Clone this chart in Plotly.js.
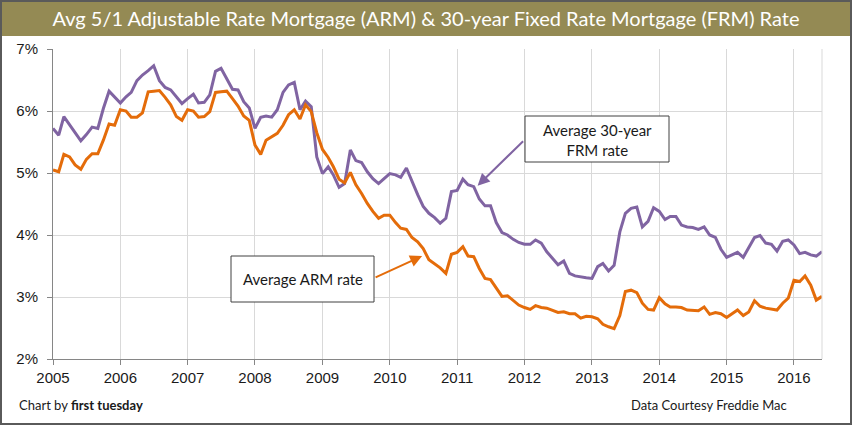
<!DOCTYPE html>
<html>
<head>
<meta charset="utf-8">
<script src="https://cdn.plot.ly/plotly-3.0.1.min.js"></script>
<style>
  html, body { margin: 0; padding: 0; background: #ffffff; }
  #chart { width: 852px; height: 425px; }
</style>
</head>
<body>
<div id="chart"></div>
<script>
// ---- Data (monthly, Jan 2005 .. Jun 2016) ----
const startYear = 2005;
const monthCount = 138;

const frmRate = [
  5.72, 5.61, 5.91, 5.78, 5.66, 5.52, 5.62, 5.74, 5.72, 6.04, 6.32, 6.23,
  6.13, 6.23, 6.30, 6.49, 6.58, 6.65, 6.73, 6.49, 6.38, 6.34, 6.22, 6.12,
  6.20, 6.27, 6.13, 6.14, 6.26, 6.64, 6.69, 6.53, 6.35, 6.34, 6.15, 6.05,
  5.72, 5.90, 5.92, 5.90, 6.02, 6.30, 6.42, 6.46, 6.02, 6.16, 6.07, 5.26,
  4.99, 5.10, 4.97, 4.77, 4.83, 5.37, 5.20, 5.17, 5.02, 4.91, 4.83, 4.91,
  4.99, 4.97, 4.93, 5.08, 4.86, 4.65, 4.46, 4.35, 4.28, 4.19, 4.27, 4.70,
  4.72, 4.90, 4.81, 4.78, 4.58, 4.47, 4.47, 4.20, 4.04, 4.00, 3.93, 3.88,
  3.85, 3.85, 3.92, 3.87, 3.73, 3.62, 3.52, 3.58, 3.38, 3.34, 3.32, 3.31,
  3.30, 3.49, 3.54, 3.42, 3.51, 4.05, 4.35, 4.43, 4.45, 4.13, 4.22, 4.44,
  4.38, 4.25, 4.30, 4.30, 4.16, 4.13, 4.12, 4.09, 4.13, 4.00, 3.96, 3.77,
  3.64, 3.68, 3.72, 3.64, 3.81, 3.96, 3.99, 3.87, 3.85, 3.74, 3.90, 3.92,
  3.84, 3.70, 3.72, 3.68, 3.66, 3.73
];

const armRate = [
  5.05, 5.02, 5.30, 5.26, 5.13, 5.06, 5.22, 5.31, 5.31, 5.53, 5.79, 5.77,
  6.02, 6.00, 5.90, 5.90, 5.97, 6.31, 6.32, 6.33, 6.22, 6.10, 5.91, 5.85,
  6.02, 6.00, 5.90, 5.91, 5.99, 6.30, 6.31, 6.32, 6.20, 6.08, 5.92, 5.85,
  5.45, 5.30, 5.53, 5.58, 5.64, 5.77, 5.94, 6.02, 5.87, 6.10, 5.99, 5.65,
  5.38, 5.25, 5.10, 4.90, 4.84, 5.01, 4.81, 4.67, 4.51, 4.38, 4.27, 4.32,
  4.32, 4.20, 4.11, 4.09, 3.96, 3.89, 3.78, 3.60, 3.54, 3.47, 3.38, 3.69,
  3.72, 3.81, 3.66, 3.65, 3.46, 3.30, 3.28, 3.14, 3.01, 3.02, 2.94, 2.87,
  2.83, 2.80, 2.86, 2.83, 2.82, 2.79, 2.75, 2.76, 2.73, 2.73, 2.66, 2.69,
  2.68, 2.65, 2.56, 2.52, 2.49, 2.70, 3.09, 3.11, 3.07, 2.90, 2.80, 2.79,
  2.99, 2.89, 2.84, 2.84, 2.83, 2.79, 2.78, 2.78, 2.84, 2.72, 2.75, 2.73,
  2.67, 2.74, 2.79, 2.70, 2.76, 2.94, 2.85, 2.82, 2.80, 2.79, 2.90, 2.98,
  3.27, 3.25, 3.34, 3.19, 2.95, 3.01
];

const tickYears = [2005, 2006, 2007, 2008, 2009, 2010, 2011, 2012, 2013, 2014, 2015, 2016];

const titleText = 'Avg 5/1 Adjustable Rate Mortgage (ARM) &amp; 30-year Fixed Rate Mortgage (FRM) Rate';
const armLabel = 'Average ARM rate';
const frmLabel = 'Average 30-year<br>FRM rate';
const creditLeft = 'Chart by <b>first tuesday</b>';
const creditRight = 'Data Courtesy Freddie Mac';

// month dates (category axis positions)
const monthDates = [];
for (let i = 0; i < monthCount; i++) {
  const y = startYear + Math.floor(i / 12);
  const m = (i % 12) + 1;
  monthDates.push(y + '-' + String(m).padStart(2, '0') + '-01');
}
const tickVals = tickYears.map(y => y + '-01-01');
const tickText = tickYears.map(String);

const purple = '#8064A2';
const orange = '#E46C0A';
const olive = '#948A54';

const traces = [
  { x: monthDates, y: frmRate, type: 'scatter', mode: 'lines', name: 'FRM',
    line: { color: purple, width: 3 }, hoverinfo: 'x+y' },
  { x: monthDates, y: armRate, type: 'scatter', mode: 'lines', name: 'ARM',
    line: { color: orange, width: 3 }, hoverinfo: 'x+y' }
];

// plot area in px: left 53, right 822, top 49, bottom 359
const L = 53, R = 822, T = 49, B = 359;
const px = v => (v - L) / (R - L);
const py = v => (B - v) / (B - T);

const layout = {
  width: 852, height: 425,
  margin: { l: L, r: 852 - R, t: T, b: 425 - B },
  paper_bgcolor: '#ffffff', plot_bgcolor: '#ffffff',
  showlegend: false,
  font: { family: 'Liberation Sans, Arial, sans-serif', color: '#1a1a1a', size: 15 },
  title: {
    text: titleText,
    font: { family: 'Lato, Open Sans, sans-serif', size: 20, color: '#ffffff' },
    x: 0.5, xref: 'container', xanchor: 'center',
    y: 1 - 19 / 425, yref: 'container', yanchor: 'middle'
  },
  xaxis: {
    type: 'date',
    range: ['2005-01-01', monthDates[monthDates.length - 1]],
    tickvals: tickVals, ticktext: tickText,
    ticks: 'outside', ticklen: 5, tickcolor: '#868686', tickwidth: 1,
    showline: true, linecolor: '#868686', linewidth: 1,
    showgrid: true, gridcolor: '#D9D9D9', gridwidth: 1,
    zeroline: false,
    tickfont: { size: 15, color: '#1a1a1a' },
    fixedrange: true
  },
  yaxis: {
    range: [2, 7], dtick: 1, tick0: 2,
    ticksuffix: '%',
    ticks: 'outside', ticklen: 5, tickcolor: '#868686', tickwidth: 1,
    ticklabelstandoff: 6,
    showline: true, linecolor: '#868686', linewidth: 1,
    showgrid: true, gridcolor: '#D9D9D9', gridwidth: 1,
    zeroline: false,
    tickfont: { size: 15, color: '#1a1a1a' },
    fixedrange: true
  },
  shapes: [
    // title bar
    { type: 'rect', xref: 'paper', yref: 'paper', layer: 'below',
      x0: px(0), x1: px(852), y0: py(36), y1: py(0),
      fillcolor: olive, line: { width: 0 } },
    // right plot border
    { type: 'line', xref: 'paper', yref: 'paper', x0: 1, x1: 1, y0: 0, y1: 1,
      line: { color: '#D9D9D9', width: 1 } },
    // label boxes
    { type: 'rect', xref: 'paper', yref: 'paper',
      x0: px(231), x1: px(374), y0: py(302), y1: py(256),
      fillcolor: '#ffffff', line: { color: '#404040', width: 1 } },
    { type: 'rect', xref: 'paper', yref: 'paper',
      x0: px(525), x1: px(669), y0: py(162), y1: py(116),
      fillcolor: '#ffffff', line: { color: '#404040', width: 1 } },
    // outer frame
    { type: 'rect', xref: 'paper', yref: 'paper',
      x0: px(1), x1: px(851), y0: py(424), y1: py(1),
      line: { color: '#5a5a5a', width: 2 } }
  ],
  annotations: [
    { xref: 'paper', yref: 'paper', x: px(302.5), y: py(279), xanchor: 'center', yanchor: 'middle',
      text: armLabel, showarrow: false,
      font: { family: 'Lato, sans-serif', size: 15, color: '#1a1a1a' } },
    { xref: 'paper', yref: 'paper', x: px(597), y: py(139.5), xanchor: 'center', yanchor: 'middle',
      text: frmLabel, showarrow: false,
      font: { family: 'Lato, sans-serif', size: 15, color: '#1a1a1a' } },
    // arrows
    { x: '2010-06-25', y: 3.66, xref: 'x', yref: 'y', text: '', showarrow: true,
      ax: -48, ay: 22, arrowhead: 2, arrowsize: 1.2, arrowwidth: 2, arrowcolor: orange },
    { x: '2011-04-22', y: 4.795, xref: 'x', yref: 'y', text: '', showarrow: true,
      ax: 47, ay: -46, arrowhead: 2, arrowsize: 1.2, arrowwidth: 2, arrowcolor: purple },
    // credits
    { xref: 'paper', yref: 'paper', x: px(17), y: py(405), xanchor: 'left', yanchor: 'middle',
      text: creditLeft, showarrow: false,
      font: { family: 'Lato, sans-serif', size: 13, color: '#1a1a1a' } },
    { xref: 'paper', yref: 'paper', x: px(789), y: py(405), xanchor: 'right', yanchor: 'middle',
      text: creditRight, showarrow: false,
      font: { family: 'Lato, sans-serif', size: 13, color: '#1a1a1a' } }
  ]
};

Plotly.newPlot('chart', traces, layout, { displayModeBar: false, staticPlot: true });
</script>
</body>
</html>
